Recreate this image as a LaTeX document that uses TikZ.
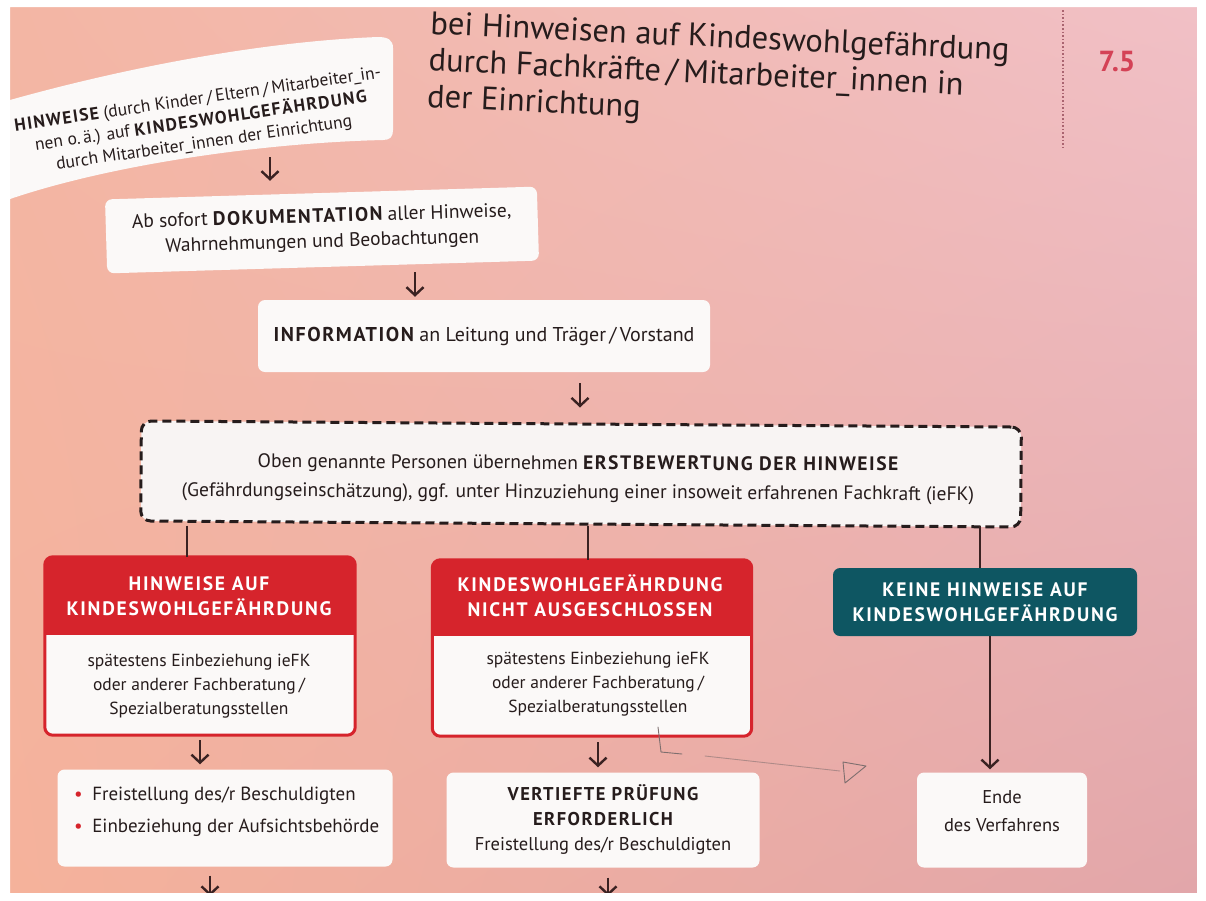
\documentclass[tikz,border=0pt]{standalone}
\usepackage{fontspec}
\setmainfont{PT Sans}
\newfontfamily\capsfont[LetterSpace=8]{PT Sans}
\newfontfamily\hdrfont[LetterSpace=9]{PT Sans}
\usetikzlibrary{arrows.meta,calc,shadings}
\definecolor{bgul}{RGB}{243,182,164}
\definecolor{bgur}{RGB}{241,192,198}
\definecolor{bgll}{RGB}{245,178,155}
\definecolor{bglr}{RGB}{226,166,170}
\definecolor{boxw}{RGB}{251,249,248}
\definecolor{dashfill}{RGB}{248,244,243}
\definecolor{txt}{RGB}{38,28,28}
\definecolor{arrc}{RGB}{58,34,34}
\definecolor{kred}{RGB}{214,36,44}
\definecolor{kteal}{RGB}{14,86,98}
\definecolor{knum}{RGB}{212,66,86}
\definecolor{dotc}{RGB}{170,100,112}
\definecolor{pencil}{RGB}{125,110,110}
\newcommand\bcaps[1]{{\capsfont\bfseries #1}}
\newcommand\kbody{\fontsize{17}{24}\selectfont}
\begin{document}
\begin{tikzpicture}[x=1pt,y=-1pt,
  wbox/.style={fill=boxw, rounded corners=7pt, inner sep=0pt},
  txtn/.style={text=txt, align=center, inner sep=0pt, font=\kbody},
  hdr/.style={text=white, align=center, inner sep=0pt, font=\fontsize{19.5}{25}\selectfont\hdrfont\bfseries},
  arr/.style={draw=arrc, line width=2.4pt, -{Straight Barb[length=8pt,width=17pt]}},
  conn/.style={draw=arrc, line width=2.4pt},
  pencilline/.style={draw=pencil, line width=0.9pt, line cap=round, line join=round},
]
\useasboundingbox (0,0) rectangle (1206,900);
\fill[white] (0,0) rectangle (1206,900);
\shade[upper left=bgul, upper right=bgur, lower left=bgll, lower right=bglr] (10,7) rectangle (1197,893);

% title and chapter number
\node[anchor=north west, align=left, inner sep=0pt, rotate=-2.6, text=txt,
      font=\fontsize{32.5}{36.5}\selectfont] (title) at (431,11)
  {bei Hinweisen auf Kindeswohlgefährdung\\durch Fachkräfte\,/\,Mitarbeiter\_innen in\\der Einrichtung};
\draw[dotc, dotted, line width=1.6pt] (1063,10) -- (1063,150);
\node[text=knum, inner sep=0pt, font=\fontsize{29}{32}\selectfont\bfseries] (num) at (1117,62) {7.5};

% curved top-left box
\fill[boxw] (10,100) .. controls (110,72) and (250,42) .. (378,37)
  .. controls (388,37) and (393,40) .. (393,48) -- (393,130)
  .. controls (393,137) and (390,140) .. (383,140)
  .. controls (260,143) and (110,165) .. (10,199) -- cycle;
\node[txtn, font=\fontsize{17.5}{22}\selectfont, rotate=8.3] (hin) at (201,122)
  {\bcaps{HINWEISE} (durch Kinder\,/\,Eltern\,/\,Mitarbeiter\_in-\\nen o.\,ä.) auf \bcaps{KINDESWOHLGEFÄHRDUNG}\\durch Mitarbeiter\_innen der Einrichtung};
\coordinate (a1s) at (270,157);

% documentation
\node[wbox, txtn, minimum width=432pt, minimum height=74pt, rotate=1.7,
      font=\fontsize{19.5}{25}\selectfont] (doc) at (322,230)
  {Ab sofort \bcaps{DOKUMENTATION} aller Hinweise,\\Wahrnehmungen und Beobachtungen};
% information
\node[wbox, txtn, minimum width=452pt, minimum height=72pt,
      font=\fontsize{20}{25}\selectfont] (info) at (484,336)
  {\bcaps{INFORMATION} an Leitung und Träger\,/\,Vorstand};
% dashed assessment box
\node[fill=dashfill, draw=txt, dash pattern=on 9pt off 5pt, line width=3pt, rounded corners=10pt,
      minimum width=880pt, minimum height=100pt, rotate=-0.4] (dash) at (581,474) {};
\node[txtn, font=\fontsize{19.5}{29}\selectfont, rotate=-0.3] (dasht) at (578,479)
  {Oben genannte Personen übernehmen \bcaps{ERSTBEWERTUNG DER HINWEISE}\\(Gefährdungseinschätzung), ggf. unter Hinzuziehung einer insoweit erfahrenen Fachkraft (ieFK)};

% red box 1
\node[inner sep=0pt, minimum width=310pt, minimum height=178pt] (rb1) at (200,646) {};
\coordinate (h1b) at (200,635);
\begin{scope}
  \clip[rounded corners=8pt] (rb1.south west) rectangle (rb1.north east);
  \fill[boxw] (rb1.south west) rectangle (rb1.north east);
  \fill[kred] (rb1.north west) rectangle (rb1.east |- h1b);
\end{scope}
\draw[kred, line width=3pt, rounded corners=8pt] (rb1.south west) rectangle (rb1.north east);
\node[hdr] (rh1) at (199,596) {HINWEISE AUF\\KINDESWOHLGEFÄHRDUNG};
\node[txtn, font=\fontsize{17.5}{24}\selectfont] (rt1) at (199,686) {spätestens Einbeziehung ieFK\\oder anderer Fachberatung\,/\\Spezialberatungsstellen};

% red box 2
\node[inner sep=0pt, minimum width=319pt, minimum height=176pt] (rb2) at (592,648) {};
\coordinate (h2b) at (592,636);
\begin{scope}
  \clip[rounded corners=8pt] (rb2.south west) rectangle (rb2.north east);
  \fill[boxw] (rb2.south west) rectangle (rb2.north east);
  \fill[kred] (rb2.north west) rectangle (rb2.east |- h2b);
\end{scope}
\draw[kred, line width=3pt, rounded corners=8pt] (rb2.south west) rectangle (rb2.north east);
\node[hdr] (rh2) at (590,596) {KINDESWOHLGEFÄHRDUNG\\NICHT AUSGESCHLOSSEN};
\node[txtn, font=\fontsize{17.5}{24}\selectfont] (rt2) at (598,684) {spätestens Einbeziehung ieFK\\oder anderer Fachberatung\,/\\Spezialberatungsstellen};

% teal box
\node[hdr, fill=kteal, rounded corners=7pt, minimum width=304pt, minimum height=68pt] (tl) at (985,602)
  {KEINE HINWEISE AUF\\KINDESWOHLGEFÄHRDUNG};

% bottom boxes
\node[wbox, minimum width=335pt, minimum height=97pt] (fb1) at (225,818) {};
\node[txtn, align=left, anchor=west, font=\fontsize{19}{24}\selectfont] (fb1t) at (74,812)
  {\textcolor{kred}{\textbullet}\enspace Freistellung des/r Beschuldigten\\[8pt]\textcolor{kred}{\textbullet}\enspace Einbeziehung der Aufsichtsbehörde};
\node[wbox, txtn, minimum width=313pt, minimum height=95pt, font=\fontsize{18.5}{25}\selectfont] (fb2) at (603,820)
  {\bcaps{VERTIEFTE PRÜFUNG}\\\bcaps{ERFORDERLICH}\\Freistellung des/r Beschuldigten};
\node[wbox, minimum width=170pt, minimum height=95pt] (fb3) at (1002,820) {};
\node[txtn, font=\fontsize{18.5}{28}\selectfont] (fb3t) at (1002,811) {Ende\\des Verfahrens};
\coordinate (out1) at (210,896);
\coordinate (out2) at (608,896);

% connectors
\draw[arr, shorten >=12pt] (a1s) -- (a1s |- doc.north);
\draw[arr, shorten <=5pt, shorten >=3pt] (415,0 |- doc.south) -- (415,0 |- info.north);
\draw[arr, shorten <=11pt, shorten >=15pt] (580,0 |- info.south) -- (580,0 |- dash.north);
\draw[conn] (187,0 |- dash.south) -- (187,0 |- rb1.north);
\draw[conn] (588,0 |- dash.south) -- (588,0 |- rb2.north);
\draw[conn] (980,0 |- dash.south) -- (980,0 |- tl.north);
\draw[arr, shorten <=5pt, shorten >=5pt] (200,0 |- rb1.south) -- (200,0 |- fb1.north);
\draw[arr, shorten <=6pt, shorten >=5pt] (598,0 |- rb2.south) -- (598,0 |- fb2.north);
\draw[arr, shorten >=3pt] (990,0 |- tl.south) -- (990,0 |- fb3.north);
\draw[arr, shorten <=9pt] (210,0 |- fb1.south) -- (out1);
\draw[arr, shorten <=10pt] (608,0 |- fb2.south) -- (out2);

% pencil doodle
\draw[pencilline] (658,727) -- (661,752) -- (682,754);
\draw[pencilline, opacity=0.55] (705,756) -- (840,771);
\draw[pencilline] (843,762) -- (866,766) -- (845,783) -- cycle;

% photo margin
\fill[white, even odd rule] (0,0) rectangle (1206,900) (10,7) rectangle (1197,893);
\end{tikzpicture}
\end{document}
